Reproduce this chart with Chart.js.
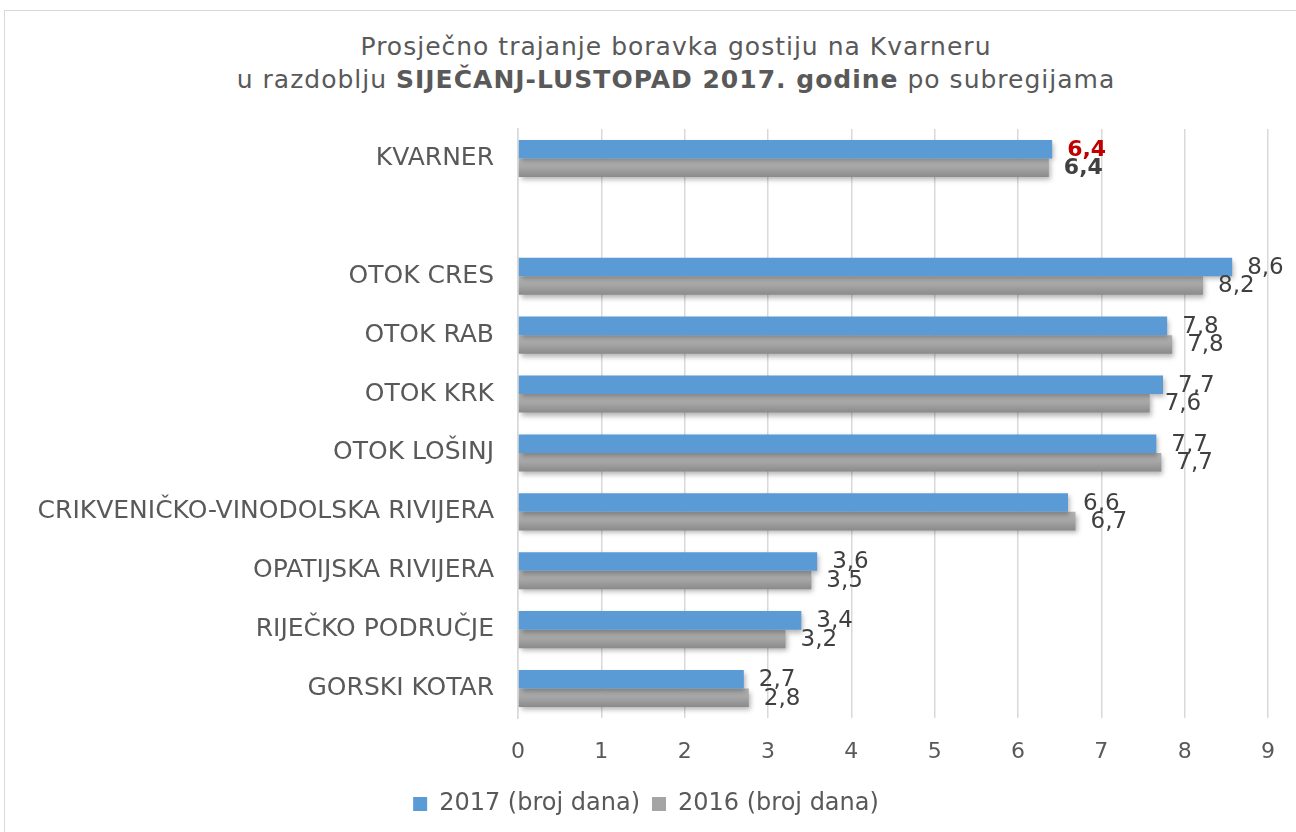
<!DOCTYPE html>
<html>
<head>
<meta charset="utf-8">
<script src="https://cdn.jsdelivr.net/npm/chart.js@4/dist/chart.umd.min.js"></script>
<style>
  html, body { margin: 0; padding: 0; background: #fff; overflow: hidden; }
  #frame { position: absolute; left: 4px; top: 10px; width: 1400px; height: 900px; border: 1px solid #d9d9d9; }
  #title { position: absolute; left: 0; top: 30px; width: 1352px; text-align: center;
    font-family: "DejaVu Sans", Verdana, sans-serif; font-size: 25px; letter-spacing: 1px;
    line-height: 33px; color: #595959; }
  #wrap { position: absolute; left: 0; top: 0; width: 1296px; height: 832px; }
</style>
</head>
<body>
<div id="frame"></div>
<div id="title">Prosječno trajanje boravka gostiju na Kvarneru<br>u razdoblju <b>SIJEČANJ-LUSTOPAD 2017. godine</b> po subregijama</div>
<div id="wrap"><canvas id="chart" width="1296" height="832"></canvas></div>
<script>
const categories = ["KVARNER", "", "OTOK CRES", "OTOK RAB", "OTOK KRK", "OTOK LOŠINJ",
  "CRIKVENIČKO-VINODOLSKA RIVIJERA", "OPATIJSKA RIVIJERA", "RIJEČKO PODRUČJE", "GORSKI KOTAR"];
const values2017 = [6.41, null, 8.57, 7.79, 7.74, 7.66, 6.6, 3.59, 3.4, 2.71];
const values2016 = [6.37, null, 8.22, 7.85, 7.58, 7.72, 6.69, 3.52, 3.21, 2.77];
const xTicks = [0, 1, 2, 3, 4, 5, 6, 7, 8, 9];
const legendColors = ["#5b9bd5", "#a5a5a5"];

const FONT = "'DejaVu Sans', Verdana, sans-serif";
const TEXT = "#595959";
const CAT_PCT = 0.63;

function grayGradient(c) {
  const chart = c.chart;
  const y = chart.scales.y;
  if (!y || c.dataIndex == null) return "#a5a5a5";
  const row = y.height / categories.length;
  const top = y.getPixelForValue(c.dataIndex);
  const bottom = top + row * CAT_PCT / 2;
  if (!isFinite(top) || !isFinite(bottom) || bottom <= top) return "#a5a5a5";
  const g = chart.ctx.createLinearGradient(0, top, 0, bottom);
  g.addColorStop(0, "#b4b4b4");
  g.addColorStop(0.5, "#a5a5a5");
  g.addColorStop(1, "#8a8a8a");
  return g;
}

const shadowPlugin = {
  id: "barShadow",
  beforeDatasetsDraw(chart) {
    const ctx = chart.ctx;
    ctx.save();
    ctx.shadowColor = "rgba(0,0,0,0.3)";
    ctx.shadowBlur = 5;
    ctx.shadowOffsetX = 2;
    ctx.shadowOffsetY = 3;
  },
  afterDatasetsDraw(chart) {
    chart.ctx.restore();
  }
};

const labelPlugin = {
  id: "valueLabels",
  afterDatasetsDraw(chart) {
    const ctx = chart.ctx;
    ctx.save();
    ctx.textBaseline = "middle";
    ctx.textAlign = "left";
    chart.data.datasets.forEach((ds, di) => {
      const meta = chart.getDatasetMeta(di);
      meta.data.forEach((el, i) => {
        const v = ds.data[i];
        if (v == null) return;
        const txt = v.toFixed(1).replace(".", ",");
        if (i === 0) {
          ctx.font = "bold 22px " + FONT;
          ctx.fillStyle = di === 0 ? "#c00000" : "#404040";
        } else {
          ctx.font = "23px " + FONT;
          ctx.fillStyle = "#404040";
        }
        ctx.fillText(txt, el.x + 15, el.y + 1);
      });
    });
    ctx.restore();
  }
};

new Chart(document.getElementById("chart"), {
  type: "bar",
  data: {
    labels: categories,
    datasets: [
      { label: "2017 (broj dana)", data: values2017, backgroundColor: "#5b9bd5",
        barPercentage: 1, categoryPercentage: CAT_PCT },
      { label: "2016 (broj dana)", data: values2016, backgroundColor: grayGradient,
        barPercentage: 1, categoryPercentage: CAT_PCT }
    ]
  },
  options: {
    indexAxis: "y",
    responsive: false,
    animation: false,
    layout: { padding: { top: 129, right: 24, bottom: 6, left: 20 } },
    scales: {
      x: {
        min: 0, max: 9,
        afterBuildTicks: s => { s.ticks = xTicks.map(v => ({ value: v })); },
        grid: { color: "#d9d9d9", lineWidth: 1.5, drawTicks: false },
        border: { display: false },
        ticks: { color: TEXT, font: { family: FONT, size: 22 }, padding: 21 },
        afterFit: s => { s.height = 62; }
      },
      y: {
        grid: { display: false, drawTicks: false },
        border: { display: true, color: "#d9d9d9", width: 1.5 },
        ticks: { color: TEXT, font: { family: FONT, size: 25 }, padding: 24, autoSkip: false },
        afterFit: s => { s.width = 498; }
      }
    },
    plugins: {
      legend: {
        position: "bottom",
        labels: {
          color: TEXT, font: { family: FONT, size: 24 }, boxWidth: 14, boxHeight: 14, padding: 12,
          generateLabels: chart => Chart.defaults.plugins.legend.labels.generateLabels(chart)
            .map((l, i) => ({ ...l, fillStyle: legendColors[i], strokeStyle: legendColors[i], lineWidth: 0 }))
        }
      },
      tooltip: { enabled: false }
    }
  },
  plugins: [shadowPlugin, labelPlugin]
});
</script>
</body>
</html>
